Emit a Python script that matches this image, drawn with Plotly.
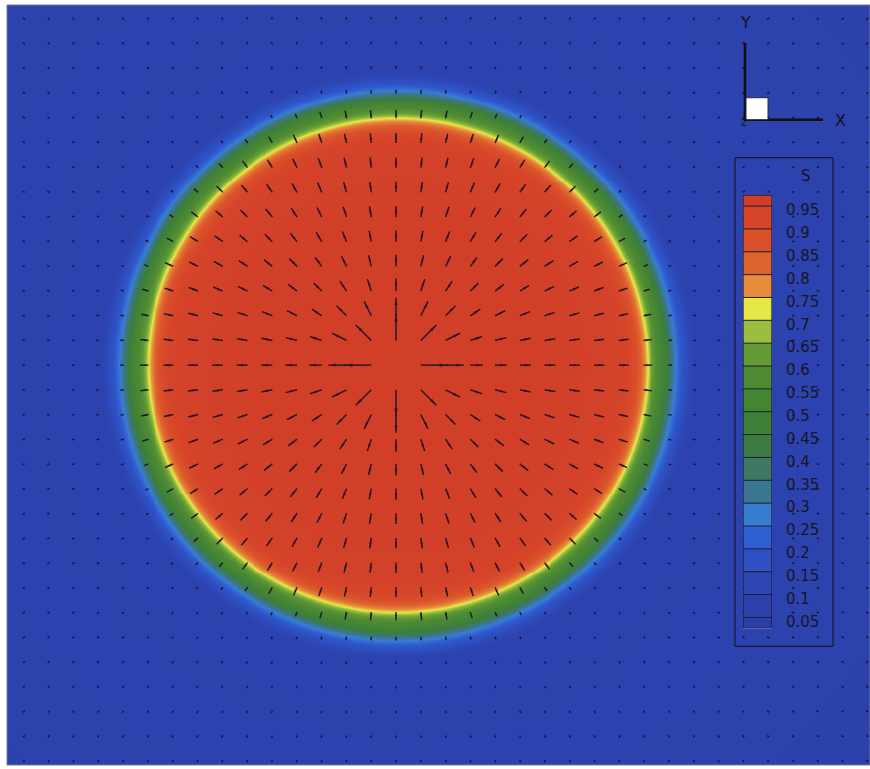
import numpy as np
import plotly.graph_objects as go

# ---------------------------------------------------------------------------
# Water saturation S around a single injector (distance in grid cells)
# ---------------------------------------------------------------------------
PROFILE_R = [0.0, 6.0, 8.6, 9.3, 9.6, 9.82, 9.95, 10.03, 10.12, 10.3, 10.55,
             10.75, 10.92, 11.1, 11.4, 11.9, 40.0]
PROFILE_S = [0.97, 0.965, 0.952, 0.92, 0.87, 0.80, 0.75, 0.715, 0.66, 0.60, 0.54,
             0.47, 0.37, 0.29, 0.19, 0.10, 0.065]
FRONT_CENTRE = (0.06, 0.0)
FRONT_XSTRETCH = 1.008

# Velocity vector length (grid cells) versus distance from the injector
SPEED_R = [1.0, 1.41, 2.0, 2.24, 2.83, 3.0, 4.0, 5.0, 7.0, 9.0, 9.9, 10.4,
           10.9, 11.5, 13.0, 30.0]
SPEED_LEN = [1.09, 0.89, 0.73, 0.65, 0.57, 0.51, 0.47, 0.45, 0.43, 0.40, 0.36,
             0.28, 0.16, 0.12, 0.10, 0.10]

# Vector grid nodes
GRID_I = list(range(-15, 20))
GRID_J = list(range(-16, 15))

# Contour levels of the legend
LEVELS = [0.05, 0.10, 0.15, 0.20, 0.25, 0.30, 0.35, 0.40, 0.45, 0.50,
          0.55, 0.60, 0.65, 0.70, 0.75, 0.80, 0.85, 0.90, 0.95]
LEVEL_LABELS = ["0.05", "0.1", "0.15", "0.2", "0.25", "0.3", "0.35", "0.4",
                "0.45", "0.5", "0.55", "0.6", "0.65", "0.7", "0.75", "0.8",
                "0.85", "0.9", "0.95"]
LEGEND_RANGE = [0.026, 0.974]
# one colour per band, from [0, 0.05] up to [0.95, 1.0]
BAND_COLORS = [
    "rgb(42,62,165)", "rgb(43,64,170)", "rgb(45,70,180)", "rgb(46,80,195)",
    "rgb(48,95,210)", "rgb(55,125,210)", "rgb(58,118,145)", "rgb(62,120,100)",
    "rgb(60,124,66)", "rgb(62,128,56)", "rgb(68,133,52)", "rgb(78,138,52)",
    "rgb(98,155,52)", "rgb(155,190,62)", "rgb(230,232,72)", "rgb(230,140,58)",
    "rgb(222,100,46)", "rgb(218,80,43)", "rgb(214,69,41)", "rgb(208,62,41)",
]

X_RANGE = [-15.72, 19.15]
Y_RANGE = [-16.20, 14.59]

W, H = 870, 769


def px(x):
    return x / W


def py(y):
    return 1 - y / H


# continuous colour scale through the band centres
mids = [0.025 + 0.05 * k for k in range(len(BAND_COLORS))]
colorscale = [[0.0, BAND_COLORS[0]]]
colorscale += [[m, c] for m, c in zip(mids, BAND_COLORS)]
colorscale += [[1.0, BAND_COLORS[-1]]]

# saturation field on a fine mesh
xs = np.arange(X_RANGE[0], X_RANGE[1] + 0.08, 0.08)
ys = np.arange(Y_RANGE[0], Y_RANGE[1] + 0.08, 0.08)
XX, YY = np.meshgrid(xs, ys)
RR = np.hypot((XX - FRONT_CENTRE[0]) / FRONT_XSTRETCH, YY - FRONT_CENTRE[1])
S = np.interp(RR, PROFILE_R, PROFILE_S)

fig = go.Figure()
fig.add_trace(go.Heatmap(
    x=xs, y=ys, z=S, colorscale=colorscale, zmin=0, zmax=1,
    zsmooth="best", showscale=False, hoverinfo="skip",
))

# velocity vectors, tail at each grid node, pointing away from the injector
sx, sy, hx, hy, hang, hsize = [], [], [], [], [], []
for i in GRID_I:
    for j in GRID_J:
        r = np.hypot(i, j)
        if r == 0:
            continue
        L = float(np.interp(r, SPEED_R, SPEED_LEN))
        ux, uy = i / r, j / r
        tx, ty = i + L * ux, j + L * uy
        sx += [i, tx, None]
        sy += [j, ty, None]
        if L > 0.3:
            hx.append(tx - 0.09 * ux)
            hy.append(ty - 0.09 * uy)
            hang.append(90 - np.degrees(np.arctan2(uy, ux)))
            hsize.append(min(7.0, 3 + 3 * L))

fig.add_trace(go.Scatter(
    x=sx, y=sy, mode="lines", hoverinfo="skip", showlegend=False,
    line=dict(color="rgba(24,18,34,0.9)", width=1.5),
))
fig.add_trace(go.Scatter(
    x=hx, y=hy, mode="markers", hoverinfo="skip", showlegend=False,
    marker=dict(symbol="arrow", size=hsize, angle=hang,
                color="rgba(24,18,34,0.9)", line=dict(width=0)),
))

# contour legend swatches
edges = [LEGEND_RANGE[0]] + LEVELS + [LEGEND_RANGE[1]]
fig.add_trace(go.Heatmap(
    x=[0, 1], y=edges, z=[[m] for m in mids],
    colorscale=colorscale, zmin=0, zmax=1, showscale=False,
    hoverinfo="skip", xaxis="x2", yaxis="y2",
))
lx, ly = [], []
for v in LEVELS:
    lx += [0, 1, None]
    ly += [v, v, None]
fig.add_trace(go.Scatter(
    x=lx, y=ly, mode="lines", xaxis="x2", yaxis="y2", hoverinfo="skip",
    showlegend=False, line=dict(color="rgb(30,28,50)", width=1),
))

LABEL_DROP = 0.0087
fig.update_layout(
    width=W, height=H,
    margin=dict(l=0, r=0, t=0, b=0),
    paper_bgcolor="white", plot_bgcolor="white",
    showlegend=False,
    xaxis=dict(domain=[px(7), 1.0], range=X_RANGE, visible=False,
               fixedrange=True),
    yaxis=dict(domain=[py(767), py(5)], range=Y_RANGE, visible=False,
               fixedrange=True),
    xaxis2=dict(domain=[px(743), px(772)], range=[0, 1], visible=False,
                anchor="y2"),
    yaxis2=dict(domain=[py(630), py(195.6)], range=LEGEND_RANGE,
                anchor="x2", side="right", showgrid=False, zeroline=False,
                showline=False, ticks="",
                tickvals=[v - LABEL_DROP for v in LEVELS],
                ticktext=LEVEL_LABELS, ticklabelstandoff=13,
                tickfont=dict(family="DejaVu Sans", size=15,
                              color="rgb(24,22,40)")),
)

shapes = [
    # frame of the field
    dict(type="rect", xref="paper", yref="paper",
         x0=px(7), x1=px(870), y0=py(767), y1=py(5),
         line=dict(color="rgb(120,120,140)", width=1)),
    # legend box and swatch outline
    dict(type="rect", xref="paper", yref="paper",
         x0=px(735), x1=px(833), y0=py(648), y1=py(158),
         line=dict(color="rgb(28,26,48)", width=1.2)),
    dict(type="rect", xref="x2", yref="y2", x0=0, x1=1,
         y0=LEGEND_RANGE[0], y1=LEGEND_RANGE[1],
         line=dict(color="rgb(28,26,48)", width=1.2)),
    # axis triad
    dict(type="line", xref="paper", yref="paper",
         x0=px(745), x1=px(745), y0=py(121), y1=py(43),
         line=dict(color="rgb(15,15,20)", width=2.6)),
    dict(type="line", xref="paper", yref="paper",
         x0=px(744), x1=px(823), y0=py(120), y1=py(120),
         line=dict(color="rgb(15,15,20)", width=2.6)),
    dict(type="rect", xref="paper", yref="paper",
         x0=px(746), x1=px(768), y0=py(120), y1=py(98),
         fillcolor="white", line=dict(color="rgb(40,40,60)", width=1)),
]
fig.update_layout(shapes=shapes)

ann_font = dict(family="DejaVu Sans", color="rgb(22,20,36)")


def label(text, x, y, size):
    return dict(text=text, x=px(x), y=py(y), xref="paper", yref="paper",
                xanchor="center", yanchor="middle", showarrow=False,
                font=dict(size=size, **ann_font))


fig.update_layout(annotations=[
    label("S", 806, 176, 15),
    label("Y", 745, 23, 16),
    label("X", 840, 121, 16),
    label("Z", 744, 123, 9),
])

fig.write_html("out.html")
